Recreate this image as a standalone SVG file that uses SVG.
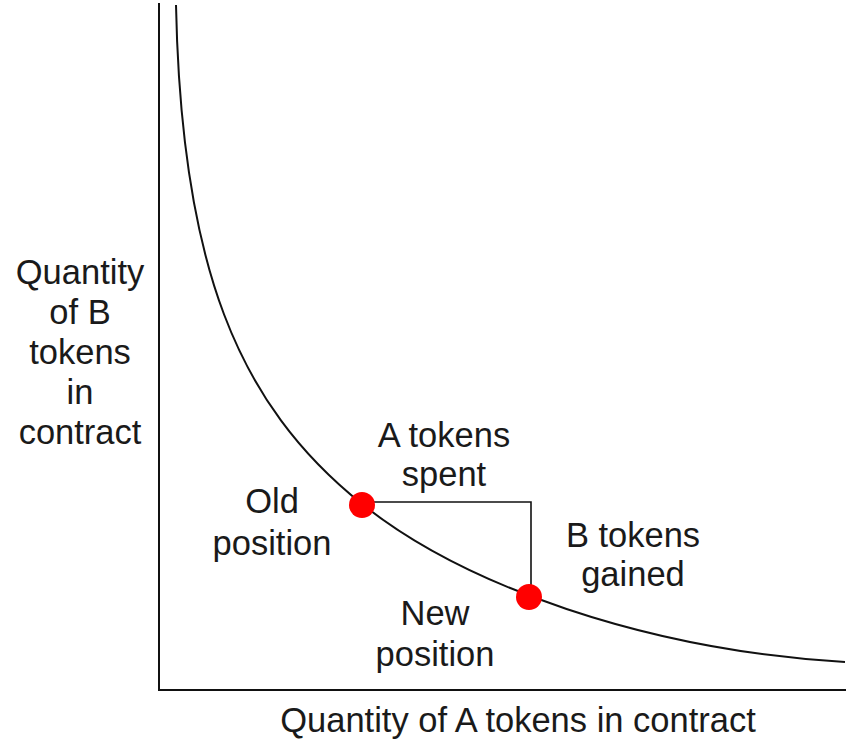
<svg xmlns="http://www.w3.org/2000/svg" width="854" height="743" viewBox="0 0 854 743">
<style>
.t{font-family:"Liberation Sans",Arial,sans-serif;font-size:34.5px;fill:#1a1a1a;text-anchor:middle}
.ln{fill:none;stroke:#111;stroke-width:2}
.dot{fill:#f00}
</style>
<rect width="854" height="743" fill="#fff"/>
<g id="axes">
<path class="ln" d="M159,3 V690 H846"/>
</g>
<g id="connectors">
<path id="curve" class="ln" d="M176,5 C181.2,265 237,404 362,504 C463.5,585.25 645,650 845,662"/>
<path id="bracket" class="ln" style="stroke-width:1.6" d="M362,502 H531 V597"/>
</g>
<g id="old-position">
<circle class="dot" cx="362" cy="505" r="13"/>
<text class="t" x="272" y="513">Old</text>
<text class="t" x="272" y="555">position</text>
</g>
<g id="new-position">
<circle class="dot" cx="529" cy="597" r="13"/>
<text class="t" x="435" y="625">New</text>
<text class="t" x="435" y="666">position</text>
</g>
<g id="a-spent">
<text class="t" x="444" y="447">A tokens</text>
<text class="t" x="444" y="486">spent</text>
</g>
<g id="b-gained">
<text class="t" x="633" y="547">B tokens</text>
<text class="t" x="633" y="586">gained</text>
</g>
<g id="y-label">
<text class="t" x="80" y="284">Quantity</text>
<text class="t" x="80" y="324">of B</text>
<text class="t" x="80" y="364">tokens</text>
<text class="t" x="80" y="404">in</text>
<text class="t" x="80" y="444">contract</text>
</g>
<g id="x-label">
<text class="t" x="518" y="732">Quantity of A tokens in contract</text>
</g>
</svg>
